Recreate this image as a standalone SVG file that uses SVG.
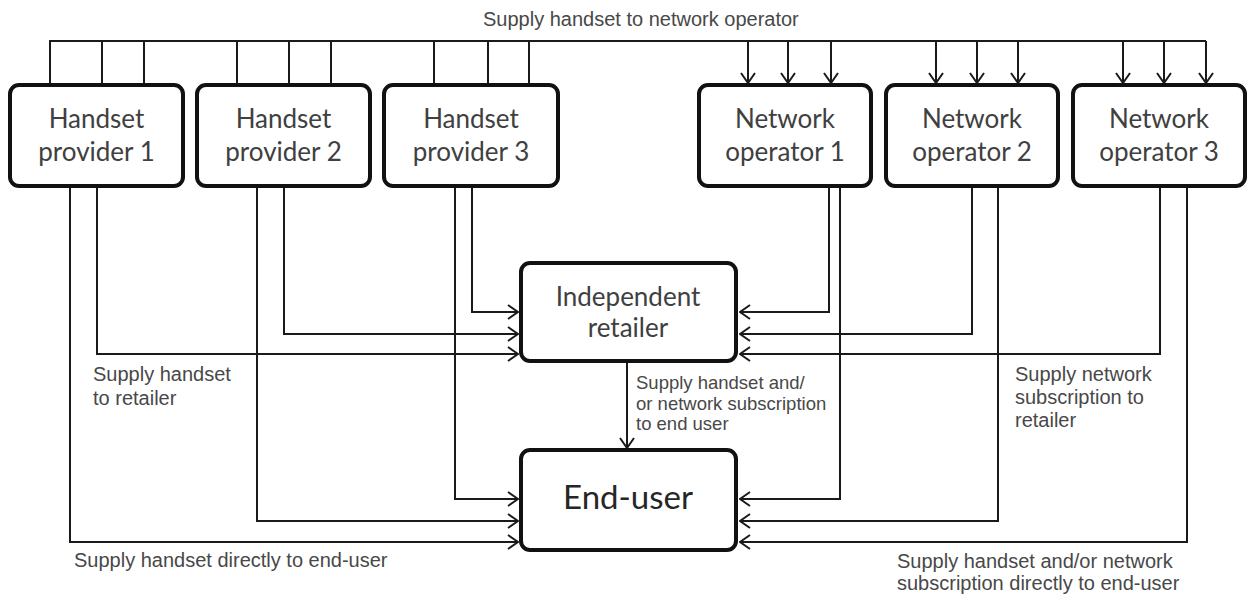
<svg xmlns="http://www.w3.org/2000/svg" width="1248" height="603" viewBox="0 0 1248 603">
  <style>
    .box { fill: #ffffff; stroke: #111111; stroke-width: 4; }
    .btxt { font-family: Lato, "Open Sans", sans-serif; font-size: 26px; fill: #404040; text-anchor: middle; }
    .big { font-size: 33px; fill: #262626; }
    .lbl { font-family: "Liberation Sans", Arial, sans-serif; font-size: 20px; fill: #484848; }
    .lbl-s { font-size: 18.5px; }
    .wire { fill: none; stroke: #1a1a1a; stroke-width: 2; }
    .arr { marker-end: url(#chev); }
  </style>
  <defs>
    <marker id="chev" viewBox="0 0 12 16" refX="11" refY="8" markerWidth="12" markerHeight="16" markerUnits="userSpaceOnUse" orient="auto">
      <path d="M1,1 L11,8 L1,15" fill="none" stroke="#1a1a1a" stroke-width="2"/>
    </marker>
  </defs>

  <rect width="1248" height="603" fill="#ffffff"/>

  <!-- connectors -->
  <g id="connectors">
    <!-- supply bus along the top -->
    <path class="wire" d="M50,83 V41 H1206"/>
    <path class="wire" d="M102,83 V41 M144,83 V41 M237,83 V41 M289,83 V41 M331,83 V41 M434,83 V41 M488,83 V41 M529,83 V41"/>
    <path class="wire arr" d="M748,41 V83"/>
    <path class="wire arr" d="M788,41 V83"/>
    <path class="wire arr" d="M831,41 V83"/>
    <path class="wire arr" d="M936,41 V83"/>
    <path class="wire arr" d="M977,41 V83"/>
    <path class="wire arr" d="M1018,41 V83"/>
    <path class="wire arr" d="M1123,41 V83"/>
    <path class="wire arr" d="M1164,41 V83"/>
    <path class="wire arr" d="M1206,41 V83"/>

    <!-- handset providers to retailer -->
    <path class="wire arr" d="M472,188 V312 H518"/>
    <path class="wire arr" d="M284,188 V334 H518"/>
    <path class="wire arr" d="M97,188 V354 H518"/>
    <!-- network operators to retailer -->
    <path class="wire arr" d="M829,188 V312 H740"/>
    <path class="wire arr" d="M972,188 V334 H740"/>
    <path class="wire arr" d="M1160,188 V354 H740"/>

    <!-- handset providers directly to end-user -->
    <path class="wire arr" d="M455,188 V499 H518"/>
    <path class="wire arr" d="M257,188 V521 H518"/>
    <path class="wire arr" d="M70,188 V542 H518"/>
    <!-- network operators directly to end-user -->
    <path class="wire arr" d="M840,188 V499 H740"/>
    <path class="wire arr" d="M998,188 V521 H740"/>
    <path class="wire arr" d="M1187,188 V542 H740"/>

    <!-- retailer to end-user -->
    <path class="wire arr" d="M627,363 V448"/>
  </g>

  <!-- nodes -->
  <g id="handset-provider-1">
    <rect class="box" x="10" y="85" width="173" height="101" rx="9"/>
    <text class="btxt" x="96.5" y="128">Handset</text>
    <text class="btxt" x="96.5" y="161">provider 1</text>
  </g>
  <g id="handset-provider-2">
    <rect class="box" x="197" y="85" width="173" height="101" rx="9"/>
    <text class="btxt" x="283.5" y="128">Handset</text>
    <text class="btxt" x="283.5" y="161">provider 2</text>
  </g>
  <g id="handset-provider-3">
    <rect class="box" x="384" y="85" width="174" height="101" rx="9"/>
    <text class="btxt" x="471" y="128">Handset</text>
    <text class="btxt" x="471" y="161">provider 3</text>
  </g>
  <g id="network-operator-1">
    <rect class="box" x="699" y="85" width="172" height="101" rx="9"/>
    <text class="btxt" x="785" y="128">Network</text>
    <text class="btxt" x="785" y="161">operator 1</text>
  </g>
  <g id="network-operator-2">
    <rect class="box" x="886" y="85" width="172" height="101" rx="9"/>
    <text class="btxt" x="972" y="128">Network</text>
    <text class="btxt" x="972" y="161">operator 2</text>
  </g>
  <g id="network-operator-3">
    <rect class="box" x="1073" y="85" width="172" height="101" rx="9"/>
    <text class="btxt" x="1159" y="128">Network</text>
    <text class="btxt" x="1159" y="161">operator 3</text>
  </g>
  <g id="independent-retailer">
    <rect class="box" x="521" y="263" width="215" height="98" rx="9"/>
    <text class="btxt" x="628" y="306">Independent</text>
    <text class="btxt" x="628" y="337">retailer</text>
  </g>
  <g id="end-user">
    <rect class="box" x="521" y="450" width="215" height="100" rx="9"/>
    <text class="btxt big" x="628" y="509">End-user</text>
  </g>

  <!-- flow labels -->
  <g id="labels">
    <text class="lbl" x="483" y="26">Supply handset to network operator</text>
    <text class="lbl" x="93" y="381">Supply handset</text>
    <text class="lbl" x="93" y="405">to retailer</text>
    <text class="lbl lbl-s" x="636" y="389">Supply handset and/</text>
    <text class="lbl lbl-s" x="636" y="410">or network subscription</text>
    <text class="lbl lbl-s" x="636" y="430">to end user</text>
    <text class="lbl" x="1015" y="381">Supply network</text>
    <text class="lbl" x="1015" y="404">subscription to</text>
    <text class="lbl" x="1015" y="427">retailer</text>
    <text class="lbl" x="74" y="567">Supply handset directly to end-user</text>
    <text class="lbl" x="897" y="568">Supply handset and/or network</text>
    <text class="lbl" x="897" y="590">subscription directly to end-user</text>
  </g>
</svg>
